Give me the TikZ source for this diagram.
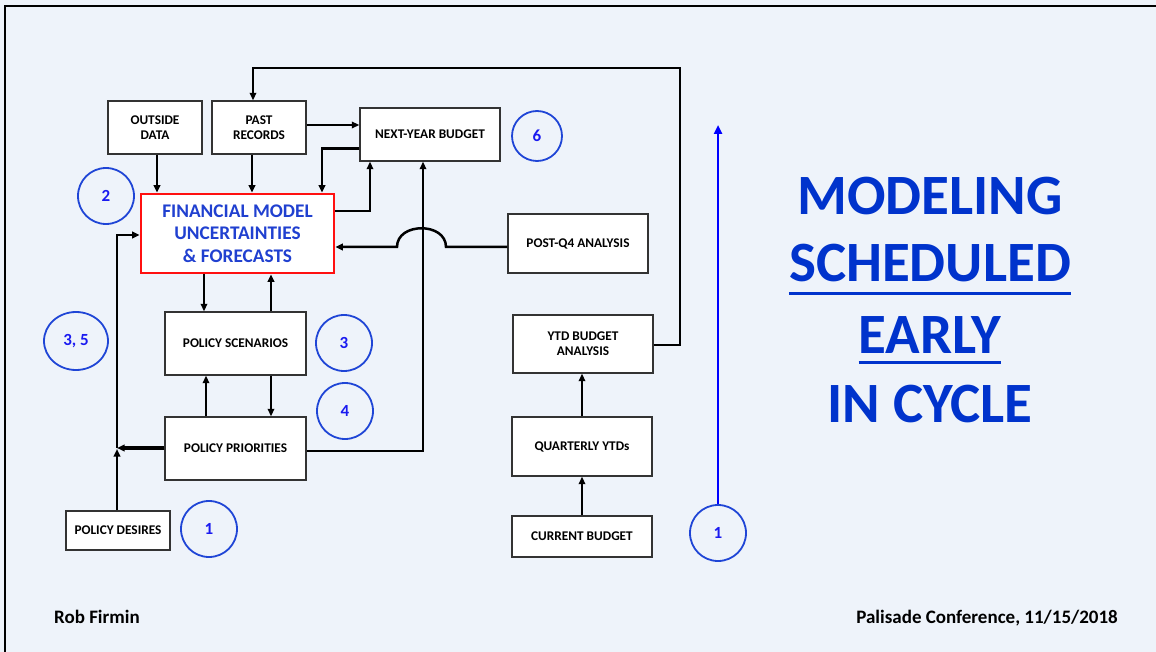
\documentclass[tikz,border=0pt]{standalone}
\usepackage{fontspec}
\setmainfont{Carlito}
\usetikzlibrary{arrows.meta,calc,shapes.geometric}
\definecolor{slidebg}{HTML}{EEF3FA}
\definecolor{titleblue}{HTML}{0033CC}
\definecolor{numblue}{HTML}{1A1AF0}
\definecolor{ringblue}{HTML}{1F45D6}
\definecolor{modelblue}{HTML}{2040D0}
\definecolor{boxline}{HTML}{333333}
\definecolor{modelred}{HTML}{FF1010}
\begin{document}
\begin{tikzpicture}[x=1pt,y=-1pt,
  box/.style={draw=boxline,line width=1.4pt,fill=white,align=center,inner sep=0pt,
    font=\fontsize{13.3}{14.7}\selectfont\bfseries},
  ring/.style={circle,draw=ringblue,line width=1.8pt,minimum size=56pt,inner sep=0pt,
    text=numblue,font=\fontsize{17}{19}\selectfont\bfseries},
  flow/.style={draw=black,line width=2.5pt,-{Triangle[length=7.5pt,width=6.5pt]}},
  title/.style={text=titleblue,font=\fontsize{57}{64}\selectfont\bfseries,inner sep=0pt,anchor=base},
  foot/.style={font=\fontsize{19}{22}\selectfont\bfseries,inner sep=0pt,anchor=base}]
\useasboundingbox (0,0) rectangle (1156,652);
\fill[slidebg] (0,0) rectangle (1156,652);
\begin{scope}
  \clip (0,0) rectangle (1156,652);
  \draw[line width=2.5pt] (5,6) rectangle (1175,675);
\end{scope}

% boxes
\node[box,minimum width=94pt,minimum height=53pt] (od) at (155,127.5) {OUTSIDE\\DATA};
\node[box,minimum width=94pt,minimum height=53pt] (pr) at (259,127.5) {PAST\\RECORDS};
\node[box,minimum width=140pt,minimum height=53pt] (nyb) at (430,134.5) {NEXT-YEAR BUDGET};
\node[box,draw=modelred,line width=2.6pt,minimum width=193pt,minimum height=79pt,
  text=modelblue,font=\fontsize{19.3}{22.5}\selectfont\bfseries] (fm) at (237.5,233.5)
  {FINANCIAL MODEL\\UNCERTAINTIES\\\& FORECASTS};
\node[box,minimum width=140pt,minimum height=59pt] (pq) at (578,243.5) {POST-Q4 ANALYSIS};
\node[box,minimum width=140pt,minimum height=58pt] (ytd) at (583,344) {YTD BUDGET\\ANALYSIS};
\node[box,minimum width=140pt,minimum height=59pt] (qy) at (582,446.5) {QUARTERLY YTDs};
\node[box,minimum width=140pt,minimum height=41pt] (cb) at (582,536.5) {CURRENT BUDGET};
\node[box,minimum width=141pt,minimum height=63pt] (ps) at (235.5,343.5) {POLICY SCENARIOS};
\node[box,minimum width=141pt,minimum height=63pt] (pp) at (235.5,448.5) {POLICY PRIORITIES};
\node[box,minimum width=104pt,minimum height=39pt] (pd) at (118,530.5) {POLICY DESIRES};

% step markers
\node[ring] (r2) at (106,196) {2};
\node[ring,minimum size=50pt] (r6) at (537,136) {6};
\node[ring,ellipse,minimum width=64pt,minimum height=58pt] (r35) at (76,341) {3, 5};
\node[ring] (r3) at (344,343) {3};
\node[ring] (r4) at (345,411) {4};
\node[ring] (r1a) at (209,529) {1};
\node[ring] (r1b) at (718,533) {1};

% connectors into the model
\draw[flow] ([xshift=2pt]od.south) -- ([xshift=2pt]od.south |- fm.north);
\draw[flow] ([xshift=-7pt]pr.south) -- ([xshift=-7pt]pr.south |- fm.north);
\draw[flow] ([yshift=2.5pt]pr.east) -- ([yshift=2.5pt]pr.east -| nyb.west);
\draw[flow] ([yshift=-14pt]nyb.west) -| ([xshift=84.5pt]fm.north);
\draw[flow] ([yshift=22.5pt]fm.east) -| ([xshift=-60pt]nyb.south);
\draw[flow] ([yshift=-2.5pt]pp.east) -| ([xshift=-7pt]nyb.south);
\draw[flow] ([yshift=-3.5pt]pq.west) -- (446,247) .. controls (446,222) and (397,222) .. (397,247)
  -- (fm.east |- 0,247);

% feedback loop from the YTD analysis
\coordinate (loopTR) at (680,68);
\draw[flow] ([yshift=-1pt]ytd.east) -| (loopTR) -| ([xshift=-6pt]pr.north);

% model <-> scenarios <-> priorities
\draw[flow] ([xshift=-33.5pt]fm.south) -- ([xshift=-33.5pt]fm.south |- ps.north);
\draw[flow] ([xshift=35.5pt]ps.north) -- ([xshift=35.5pt]ps.north |- fm.south);
\draw[flow] ([xshift=-29.5pt]pp.north) -- ([xshift=-29.5pt]pp.north |- ps.south);
\draw[flow] ([xshift=35.5pt]ps.south) -- ([xshift=35.5pt]ps.south |- pp.north);

% desires and priorities feed back into the model
\coordinate (junc) at (117,448);
\draw[flow,line width=4pt] (pp.west |- junc) -- (junc);
\draw[flow] (pd.north -| junc) -- ([yshift=-1pt]junc);
\draw[flow] (junc) |- ([yshift=-1.5pt]fm.west);

% current-year chain
\draw[flow] (cb.north) -- (cb.north |- qy.south);
\draw[flow] (qy.north) -- (qy.north |- ytd.south);

% cycle arrow
\coordinate (cycTop) at (718,125);
\draw[draw=blue,line width=2.8pt,-{Triangle[length=9pt,width=8pt]}] (r1b.north) -- (cycTop);

% title
\node[title] (t1) at (930,215) {MODELING};
\node[title] (t2) at (930,282) {SCHEDULED};
\node[title] (t3) at (930,353) {EARLY};
\node[title] (t4) at (930,422) {IN CYCLE};
\draw[titleblue,line width=3pt] ([yshift=-11pt]t2.base west) -- ([yshift=-11pt]t2.base east);
\draw[titleblue,line width=3pt] ([yshift=-9pt]t3.base west) -- ([yshift=-9pt]t3.base east);

% footer
\node[foot,anchor=base west] (author) at (54,623) {Rob Firmin};
\node[foot,anchor=base east] (venue) at (1118,623) {Palisade Conference, 11/15/2018};
\end{tikzpicture}
\end{document}
